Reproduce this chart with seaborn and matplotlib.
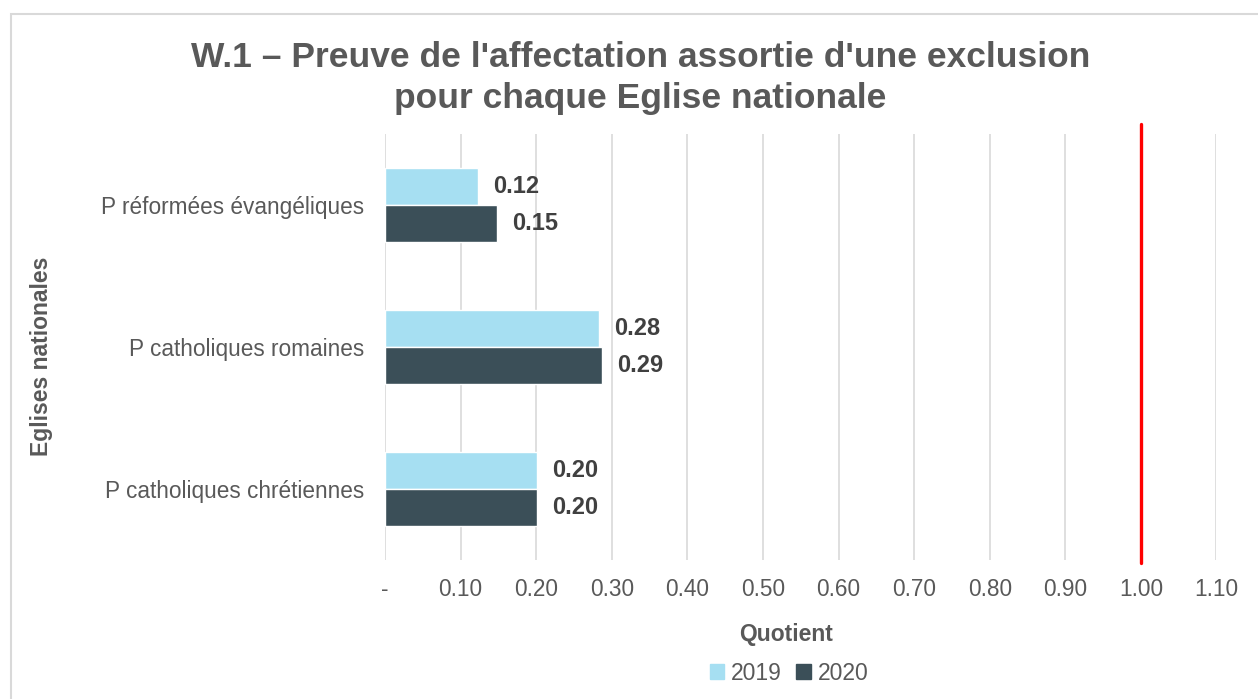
"""
W.1 - Preuve de l'affectation assortie d'une exclusion (barres horizontales).
"""

import matplotlib.pyplot as plt
import pandas as pd
import seaborn as sns
from matplotlib.patches import Rectangle

EGLISES = ['P réformées évangéliques', 'P catholiques romaines', 'P catholiques chrétiennes']
ANNEES = ['2019', '2020']
QUOTIENT_2019 = [0.123, 0.283, 0.201]
QUOTIENT_2020 = [0.148, 0.287, 0.201]
X_TICKS = [0.0, 0.1, 0.2, 0.3, 0.4, 0.5, 0.6, 0.7, 0.8, 0.9, 1.0, 1.1]
SEUIL = 1.0

COLORS = {'2019': '#a6dff2', '2020': '#3b4f58'}
TEXT_GREY = '#595959'


def main():
    df = pd.DataFrame({
        'eglise': EGLISES * 2,
        'annee': [ANNEES[0]] * 3 + [ANNEES[1]] * 3,
        'quotient': QUOTIENT_2019 + QUOTIENT_2020,
    })

    sns.set_theme(style='white')
    plt.rcParams['font.family'] = ['Liberation Sans', 'DejaVu Sans']

    fig = plt.figure(figsize=(12.58, 6.99), dpi=100)
    ax = fig.add_axes([0.306, 0.199, 0.661, 0.609])

    sns.barplot(
        data=df, y='eglise', x='quotient', hue='annee', order=EGLISES,
        hue_order=ANNEES, palette=COLORS, orient='h', width=0.52,
        saturation=1, ax=ax, legend=False,
    )

    # Labels de valeur
    for container in ax.containers:
        ax.bar_label(
            container, fmt='%.2f', padding=11, fontsize=17,
            fontweight='bold', color='#404040',
        )

    ax.set_xlim(0, 1.1)
    ax.set_xticks(X_TICKS)
    ax.set_xticklabels(['-'] + [f'{t:.2f}' for t in X_TICKS[1:]])
    ax.grid(axis='x', color='#d9d9d9', linewidth=1.2)
    ax.grid(axis='y', visible=False)
    ax.set_axisbelow(True)
    for spine in ax.spines.values():
        spine.set_visible(False)
    ax.tick_params(axis='both', length=0, labelsize=16.3, labelcolor=TEXT_GREY)
    ax.tick_params(axis='x', pad=13)
    ax.tick_params(axis='y', pad=15)

    # Ligne seuil rouge
    ax.axvline(SEUIL, ymin=-0.008, ymax=1.025, color='#ff0000',
               linewidth=2.4, clip_on=False, zorder=3)

    ax.set_xlabel('')
    ax.set_ylabel('')
    fig.text(786 / 1258, 1 - 635 / 699, 'Quotient', fontsize=16.5,
             fontweight='bold', color=TEXT_GREY, ha='center', va='center')
    fig.text(42 / 1258, 1 - 356 / 699, 'Eglises nationales', rotation=90,
             fontsize=16.5, fontweight='bold', color=TEXT_GREY,
             ha='center', va='center')

    fig.text(0.509, 1 - 78 / 699,
             "W.1 \u2013 Preuve de l'affectation assortie d'une exclusion\n"
             "pour chaque Eglise nationale",
             ha='center', va='center', fontsize=25.5, fontweight='bold',
             color=TEXT_GREY, linespacing=1.32)

    # Legende
    handles = [Rectangle((0, 0), 1, 1, color=COLORS[a]) for a in ANNEES]
    fig.legend(
        handles, ANNEES, loc='center', bbox_to_anchor=(789 / 1258, 1 - 673 / 699),
        ncol=2, frameon=False, fontsize=16.5, handlelength=0.65,
        handleheight=0.65, handletextpad=0.3, columnspacing=0.6,
        labelcolor=TEXT_GREY,
    )

    # Cadre du graphique
    fig.patches.append(Rectangle(
        (0.009, -0.05), 1.05, 1.03, transform=fig.transFigure,
        fill=False, edgecolor='#d9d9d9', linewidth=1.5,
    ))

    fig.savefig('out.png', dpi=100)
    plt.close(fig)


if __name__ == '__main__':
    main()
